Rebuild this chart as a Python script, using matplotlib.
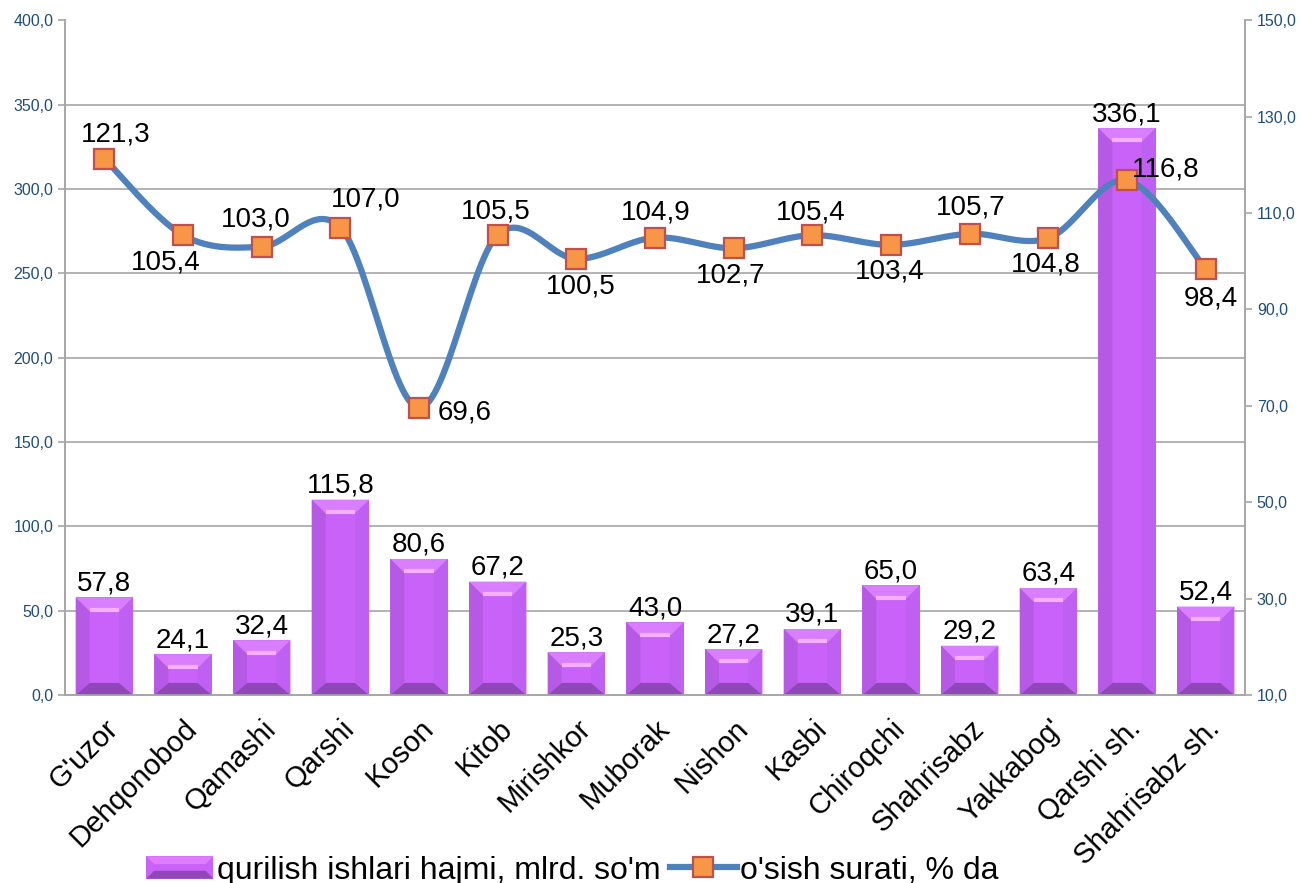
import numpy as np
import matplotlib
matplotlib.use('Agg')
import matplotlib.pyplot as plt
from matplotlib.patches import Rectangle, Polygon
from matplotlib.lines import Line2D
from matplotlib.legend_handler import HandlerBase

plt.rcParams['font.family'] = ['Liberation Sans', 'DejaVu Sans']

categories = ["G'uzor", "Dehqonobod", "Qamashi", "Qarshi", "Koson", "Kitob", "Mirishkor",
              "Muborak", "Nishon", "Kasbi", "Chiroqchi", "Shahrisabz", "Yakkabog'",
              "Qarshi sh.", "Shahrisabz sh."]
volume = [57.8, 24.1, 32.4, 115.8, 80.6, 67.2, 25.3, 43.0, 27.2, 39.1, 65.0, 29.2, 63.4, 336.1, 52.4]
growth = [121.3, 105.4, 103.0, 107.0, 69.6, 105.5, 100.5, 104.9, 102.7, 105.4, 103.4, 105.7, 104.8, 116.8, 98.4]
left_ticks = [0, 50, 100, 150, 200, 250, 300, 350, 400]
right_ticks = [10, 30, 50, 70, 90, 110, 130, 150]
bar_name = "qurilish ishlari hajmi, mlrd. so'm"
line_name = "o'sish surati, % da"

# label offsets for the line points (pixels)
line_offsets = [(11, 24), (-17, -27), (-6, 27), (25, 28), (46, -5), (-2, 23), (4, -28), (1, 25),
                (-3, -27), (-2, 23), (-1, -27), (1, 26), (-3, -26), (39, 11), (5, -30)]

face = '#C862F8'
top_c = '#D87EFF'
hi_c = '#F4B0FF'
left_c = '#B65AE6'
right_c = '#C060F2'
bot_c = '#9047B8'
tick_c = '#1F4E79'
grid_c = '#A6A6A6'


def fmt(v):
    return f"{v:.1f}".replace('.', ',')


fig = plt.figure(figsize=(13.01, 8.83), dpi=100)
ax = fig.add_axes([0.05, 0.213, 0.907, 0.764])
ax2 = ax.twinx()

x = np.arange(len(categories))
bw = 0.73
hw = bw / 2
dx = 14 / 78.67
dyt = 14 * 400 / 675
dyb = 12 * 400 / 675

for yv in left_ticks[1:-1]:
    ax.axhline(yv, color=grid_c, lw=1.2, zorder=0)

ax.bar(x, volume, width=bw, color=face, zorder=2)
for c, h in zip(x, volume):
    l, r = c - hw, c + hw
    ax.add_patch(Polygon([(l, h), (r, h), (r - dx, h - dyt), (l + dx, h - dyt)], closed=True,
                         fc=top_c, ec='none', zorder=3))
    ax.add_patch(Polygon([(l, 0), (r, 0), (r - dx, dyb), (l + dx, dyb)], closed=True,
                         fc=bot_c, ec='none', zorder=3))
    ax.add_patch(Polygon([(l, 0), (l + dx, dyb), (l + dx, h - dyt), (l, h)], closed=True,
                         fc=left_c, ec='none', zorder=3))
    ax.add_patch(Polygon([(r, 0), (r - dx, dyb), (r - dx, h - dyt), (r, h)], closed=True,
                         fc=right_c, ec='none', zorder=3))
    ax.plot([l + dx, r - dx], [h - dyt + 1.0, h - dyt + 1.0], color=hi_c, lw=3, zorder=4,
            solid_capstyle='butt')
    ax.annotate(fmt(h), (c, h), xytext=(0, 1), textcoords='offset pixels',
                ha='center', va='bottom', fontsize=20, zorder=5)

ax.set_xlim(-0.5, len(categories) - 0.5)
ax.set_ylim(0, 400)
ax.set_yticks(left_ticks)
ax.set_yticklabels([fmt(v) for v in left_ticks])
ax.set_xticks(x)
ax.set_xticklabels(categories, rotation=45, ha='right', rotation_mode='anchor', fontsize=21)
ax.tick_params(axis='x', length=0, pad=14)
ax.tick_params(axis='y', colors=grid_c, labelcolor=tick_c, labelsize=11.5, length=5, width=1.2)

# smooth line (Bezier with Catmull-Rom style tangents, like Excel)
gy = np.array(growth, dtype=float)
px, py = [], []
n = len(gy)
t = np.linspace(0, 1, 30)
for i in range(n - 1):
    p0 = np.array([x[i], gy[i]])
    p3 = np.array([x[i + 1], gy[i + 1]])
    pm = np.array([x[max(i - 1, 0)], gy[max(i - 1, 0)]])
    pp = np.array([x[min(i + 2, n - 1)], gy[min(i + 2, n - 1)]])
    p1 = p0 + (p3 - pm) / 6
    p2 = p3 - (pp - p0) / 6
    seg = ((1 - t) ** 3)[:, None] * p0 + (3 * (1 - t) ** 2 * t)[:, None] * p1 + \
          (3 * (1 - t) * t ** 2)[:, None] * p2 + (t ** 3)[:, None] * p3
    px.extend(seg[:, 0])
    py.extend(seg[:, 1])
ax2.plot(px, py, color='#4F81BD', lw=4.5, solid_capstyle='round', zorder=3)
ax2.plot(x, growth, ls='none', marker='s', ms=14, mfc='#F79646', mec='#C0504D', mew=1.6, zorder=4)
for i, v in enumerate(growth):
    ox, oy = line_offsets[i]
    ax2.annotate(fmt(v), (x[i], v), xytext=(ox, oy), textcoords='offset pixels',
                 ha='center', va='center', fontsize=20, zorder=5)

ax2.set_ylim(10, 150)
ax2.set_yticks(right_ticks)
ax2.set_yticklabels([fmt(v) for v in right_ticks])
ax2.tick_params(axis='y', colors=grid_c, labelcolor=tick_c, labelsize=11.5, length=5, width=1.2)

for a in (ax, ax2):
    a.spines['top'].set_visible(False)
    for s in ('left', 'right', 'bottom'):
        a.spines[s].set_color(grid_c)
        a.spines[s].set_linewidth(1.2)


class BevelHandler(HandlerBase):
    def create_artists(self, legend, orig_handle, xd, yd, width, height, fontsize, trans):
        w, h = width, height
        b = min(w, h) * 0.35
        arts = [Rectangle((xd, yd), w, h, fc=face, ec='none', transform=trans),
                Polygon([(xd, yd + h), (xd + w, yd + h), (xd + w - b, yd + h - b), (xd + b, yd + h - b)],
                        closed=True, fc='#E07CFF', ec='none', transform=trans),
                Polygon([(xd, yd), (xd + w, yd), (xd + w - b, yd + b), (xd + b, yd + b)],
                        closed=True, fc=bot_c, ec='none', transform=trans)]
        return arts


bar_handle = Rectangle((0, 0), 1, 1, fc=face)
line_handle = Line2D([], [], color='#4F81BD', lw=4.5, marker='s', ms=14, mfc='#F79646',
                     mec='#C0504D', mew=1.6)
fig.legend([bar_handle, line_handle], [bar_name, line_name], loc='center',
           bbox_to_anchor=(0.44, 0.014), ncol=2, frameon=False, fontsize=23,
           handler_map={Rectangle: BevelHandler()}, handlelength=2.1, handletextpad=0.1,
           columnspacing=0.3)

fig.savefig('out.png', dpi=100)
